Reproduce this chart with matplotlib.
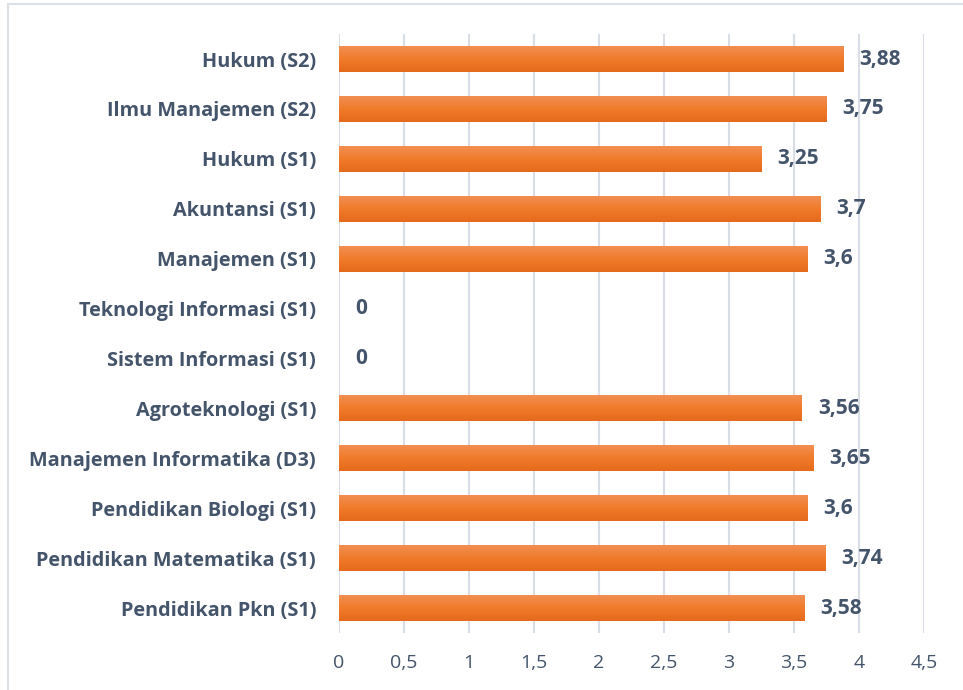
import numpy as np
import matplotlib
matplotlib.use('Agg')
from matplotlib import pyplot as plt
from matplotlib.lines import Line2D

# data, top to bottom as in the chart
categories = ['Hukum (S2)', 'Ilmu Manajemen (S2)', 'Hukum (S1)', 'Akuntansi (S1)',
              'Manajemen (S1)', 'Teknologi Informasi (S1)', 'Sistem Informasi (S1)',
              'Agroteknologi (S1)', 'Manajemen Informatika (D3)', 'Pendidikan Biologi (S1)',
              'Pendidikan Matematika (S1)', 'Pendidikan Pkn (S1)']
values = [3.88, 3.75, 3.25, 3.7, 3.6, 0, 0, 3.56, 3.65, 3.6, 3.74, 3.58]
xticks = [0, 0.5, 1, 1.5, 2, 2.5, 3, 3.5, 4, 4.5]

txt_color = '#44546A'
plt.rcParams['font.family'] = ['Open Sans', 'DejaVu Sans']

fig = plt.figure(figsize=(9.63, 6.9), dpi=100)
ax = fig.add_axes([0.352, 0.0826, 0.6075, 0.868])

y = np.arange(len(categories))
bars = ax.barh(y, values, height=0.52, color='#ED7D31', zorder=2)

# vertical gradient inside each bar
grad = np.linspace(0, 1, 64).reshape(-1, 1)
cmap = matplotlib.colors.LinearSegmentedColormap.from_list('g', ['#F28E52', '#F07B2A', '#E66A1C'])
for b in bars:
    if b.get_width() <= 0:
        continue
    x0, y0 = b.get_x(), b.get_y()
    w, h = b.get_width(), b.get_height()
    im = ax.imshow(grad, cmap=cmap, aspect='auto', extent=(x0, x0 + w, y0 + h, y0),
                   zorder=3, interpolation='bilinear')
    im.set_clip_path(b)

for yi, v in zip(y, values):
    ax.text(v + 0.125, yi, ('%g' % v).replace('.', ','), va='center', ha='left',
            fontsize=15, fontweight='bold', color=txt_color)

ax.set_ylim(len(categories) - 0.5, -0.5)
ax.set_xlim(0, 4.5)
ax.set_yticks(y)
ax.set_yticklabels(categories, fontsize=14.3, fontweight='bold', color=txt_color)
ax.set_xticks(xticks)
ax.set_xticklabels([('%g' % t).replace('.', ',') for t in xticks], fontsize=14, color=txt_color)
ax.tick_params(axis='both', length=0)
ax.tick_params(axis='y', pad=16.5)
ax.tick_params(axis='x', pad=15)
ax.grid(axis='x', color='#D9DEE6', linewidth=1.5, zorder=0)
for s in ax.spines.values():
    s.set_visible(False)

# chart border
fig.add_artist(Line2D([8 / 963, 8 / 963], [0, 1 - 4 / 690], color='#DCE1E8', linewidth=1.5))
fig.add_artist(Line2D([8 / 963, 1], [1 - 4 / 690, 1 - 4 / 690], color='#DCE1E8', linewidth=1.5))

fig.savefig('out.png', dpi=100)
